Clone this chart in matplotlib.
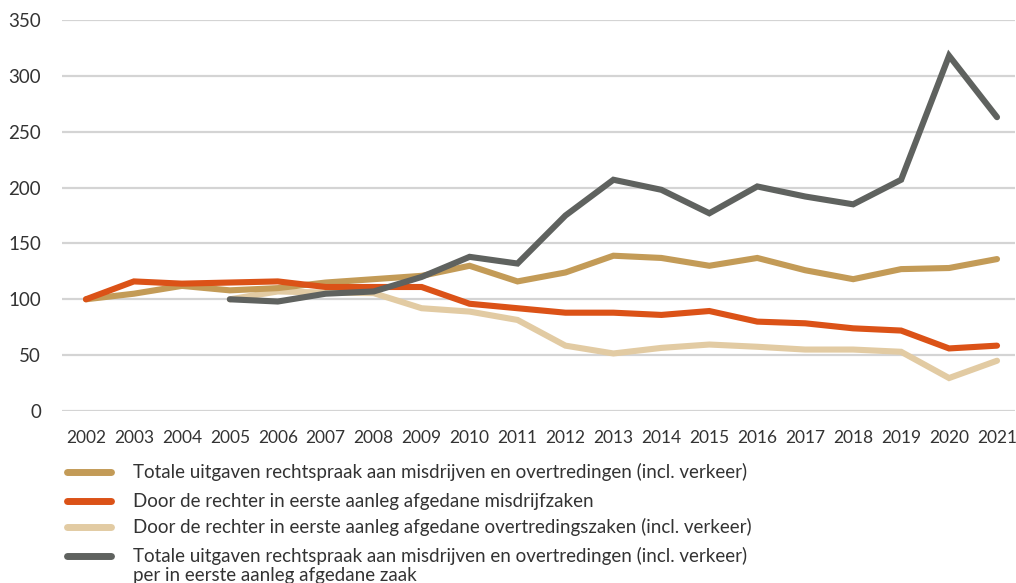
"""Index chart: rechtspraak uitgaven vs afgedane zaken, 2002-2021 (2002 = 100)."""
import matplotlib
matplotlib.use("Agg")
import matplotlib.pyplot as plt
from matplotlib.lines import Line2D

plt.rcParams["font.family"] = ["Lato", "DejaVu Sans"]

years = list(range(2002, 2022))

# Totale uitgaven rechtspraak aan misdrijven en overtredingen (incl. verkeer)
uitgaven = [100, 105, 112, 108, 110, 115, 118, 121, 130, 116,
            124, 139, 137, 130, 137, 126, 118, 127, 128, 136]
# Door de rechter in eerste aanleg afgedane misdrijfzaken
misdrijf = [100, 116, 114, 115, 116, 111, 111, 111, 96, 92,
            88, 88, 86, 89.5, 80, 78.5, 74, 72, 56, 58.5]
# Door de rechter in eerste aanleg afgedane overtredingszaken (vanaf 2005)
overtr_years = list(range(2005, 2022))
overtreding = [100, 107, 106, 105.5, 92, 89, 81.5, 58.5, 51.5, 56.5,
               59.5, 57.5, 55, 55, 53, 29.5, 45]
# Uitgaven per afgedane zaak (vanaf 2005)
per_zaak = [100, 98, 105, 107, 120, 138, 132, 175, 207, 198,
            177, 201, 192, 185, 207, 318, 263]

labels = [
    "Totale uitgaven rechtspraak aan misdrijven en overtredingen (incl. verkeer)",
    "Door de rechter in eerste aanleg afgedane misdrijfzaken",
    "Door de rechter in eerste aanleg afgedane overtredingszaken (incl. verkeer)",
    "Totale uitgaven rechtspraak aan misdrijven en overtredingen (incl. verkeer)\n"
    "per in eerste aanleg afgedane zaak",
]
colors = ["#C39B57", "#DB5217", "#E2CBA3", "#5F625F"]
TEXT = "#333333"
FS = 13.5

fig = plt.figure(figsize=(10.16, 5.83), dpi=100)
ax = fig.add_axes([62 / 1016, 1 - 411 / 583, (1015 - 62) / 1016, 391 / 583])

style = dict(lw=4.4, solid_capstyle="round", solid_joinstyle="miter", clip_on=False)
ax.plot(overtr_years, overtreding, color=colors[2], zorder=2, **style)
ax.plot(years, uitgaven, color=colors[0], zorder=3, **style)
ax.plot(years, misdrijf, color=colors[1], zorder=4, **style)
ax.plot(overtr_years, per_zaak, color=colors[3], zorder=5, **style)

ax.set_xlim(2001.5, 2021.375)
ax.set_ylim(0, 350)
ax.set_yticks(range(0, 351, 50))
ax.set_xticks(years)
ax.grid(axis="y", color="#d4d4d4", lw=1.6)
ax.set_axisbelow(True)
for s in ax.spines.values():
    s.set_visible(False)
ax.tick_params(axis="both", length=0, labelsize=FS, colors=TEXT)
ax.tick_params(axis="x", pad=14, labelsize=12.5)
ax.tick_params(axis="y", pad=15)

# legend, drawn by hand so the handle sits on the first line of a wrapped label
rows_y = [472, 501, 527, 556]
for lab, col, y in zip(labels, colors, rows_y):
    yf = 1 - y / 583
    fig.add_artist(Line2D([67 / 1016, 111 / 1016], [yf, yf], color=col, lw=5,
                          solid_capstyle="round", transform=fig.transFigure))
    first, *rest = lab.split("\n")
    fig.text(133 / 1016, yf, first, ha="left", va="center", fontsize=FS, color=TEXT)
    for k, extra in enumerate(rest, start=1):
        fig.text(133 / 1016, 1 - (y + 20 * k) / 583, extra, ha="left",
                 va="center", fontsize=FS, color=TEXT)

fig.savefig("out.png", dpi=100)
